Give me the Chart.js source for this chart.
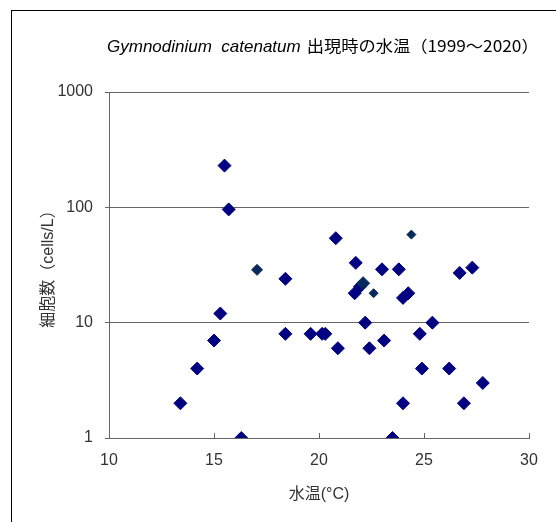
<!DOCTYPE html>
<html><head><meta charset="utf-8">
<script src="https://cdn.jsdelivr.net/npm/chart.js@4.4.1/dist/chart.umd.min.js"></script>
<style>html,body{margin:0;padding:0;background:#fff;} canvas{display:block;}</style>
</head><body>
<canvas id="c" width="556" height="522"></canvas>
<script>
// --- data ---
const mainTemp  = [13.4, 14.2, 15.0, 15.3, 15.5, 15.7, 16.3, 18.4, 18.4, 19.6, 20.15, 20.3, 20.8, 20.9, 21.75, 21.7, 21.95, 22.2, 22.4, 23.0, 23.1, 23.5, 23.8, 24.0, 24.25, 24.0, 24.8, 24.9, 25.4, 26.2, 26.7, 26.9, 27.3, 27.8];
const mainCells = [2,    4,    7,    12,   230,  96,   1,    24,   8,    8,    8,     8,    54,   6,    33,    18,   20.5,  10,   6,    29,   7,    1,    29,   16.4, 18,    2,    8,    4,    10,   4,    27,   2,    30,   3];
const subTemp   = [17.05, 22.1, 22.6, 24.4];
const subCells  = [28.7,  22,   18,   58];
const xTickValues = [10, 15, 20, 25, 30];
const yTickValues = [1, 10, 100, 1000];
const titleLatin = 'Gymnodinium  catenatum';
const titleJa = '出現時の水温（1999～2020）';
const xTitle = '水温(°C)';
const yTitle = '細胞数（cells/L）';

const toPoints = (xs, ys) => xs.map((x, i) => ({x: x, y: ys[i]}));

Chart.defaults.font.family = "'Liberation Sans', 'Noto Sans CJK JP', sans-serif";
Chart.defaults.font.size = 16;
Chart.defaults.color = '#333';

const framePlugin = {
  id: 'frame',
  afterDraw(chart) {
    const ctx = chart.ctx;
    ctx.save();
    // outer frame (left and top edges visible)
    ctx.fillStyle = '#000';
    ctx.fillRect(11, 10, 545, 1);
    ctx.fillRect(11, 10, 1, 512);
    // inward x tick marks
    const xs = chart.scales.x;
    const bottom = chart.chartArea.bottom;
    ctx.strokeStyle = '#666';
    ctx.lineWidth = 1;
    xTickValues.forEach(v => {
      const px = Math.round(xs.getPixelForValue(v)) + 0.5;
      ctx.beginPath();
      ctx.moveTo(px, bottom);
      ctx.lineTo(px, bottom - 5);
      ctx.stroke();
    });
    // title: italic latin part + japanese part
    ctx.fillStyle = '#000';
    ctx.textBaseline = 'alphabetic';
    ctx.textAlign = 'left';
    ctx.font = "italic 17px 'Liberation Sans'";
    const wL = ctx.measureText(titleLatin).width;
    const startX = 107;
    ctx.fillText(titleLatin, startX, 52);
    ctx.font = "16px 'Noto Sans CJK JP'";
    const wJ = ctx.measureText(titleJa).width;
    const jaX = startX + wL + 6;
    const targetW = 232;
    ctx.save();
    ctx.translate(jaX, 52);
    ctx.scale(targetW / wJ, 1);
    ctx.fillText(titleJa, 0, 0);
    ctx.restore();
    ctx.restore();
  }
};

new Chart(document.getElementById('c'), {
  type: 'scatter',
  data: {
    datasets: [
      {
        label: 'sub',
        data: toPoints(subTemp, subCells),
        pointStyle: 'rectRot',
        pointRadius: [5.5, 6.5, 4.5, 4.5],
        pointBackgroundColor: '#062a5c',
        pointBorderColor: '#062a5c',
        pointBorderWidth: 1
      },
      {
        label: 'main',
        data: toPoints(mainTemp, mainCells),
        pointStyle: 'rectRot',
        pointRadius: 6.5,
        pointBackgroundColor: '#000080',
        pointBorderColor: '#000080',
        pointBorderWidth: 1
      }
    ]
  },
  options: {
    responsive: false,
    animation: false,
    layout: {padding: {left: 0, top: 92, right: 27, bottom: 0}},
    plugins: {legend: {display: false}, tooltip: {enabled: false}, title: {display: false}},
    scales: {
      x: {
        type: 'linear',
        min: 10, max: 30,
        afterBuildTicks(scale) { scale.ticks = xTickValues.map(v => ({value: v})); },
        afterFit(scale) { scale.height = 84; },
        grid: {display: true, drawOnChartArea: false, drawTicks: false},
        border: {display: true, color: '#666', width: 1},
        ticks: {padding: 13, color: '#333', font: {size: 16}},
        title: {display: true, text: xTitle, color: '#333', font: {size: 16}, padding: {top: 0, bottom: 18}}
      },
      y: {
        type: 'logarithmic',
        min: 1, max: 1000,
        afterBuildTicks(scale) { scale.ticks = yTickValues.map(v => ({value: v})); },
        afterFit(scale) { scale.width = 109; },
        grid: {display: true, color: '#666', lineWidth: 1, tickLength: 4, drawOnChartArea: true},
        border: {display: true, color: '#666', width: 1},
        ticks: {padding: 12, color: '#333', font: {size: 16}, callback: v => String(v)},
        title: {display: true, text: yTitle, color: '#333', font: {size: 16}, padding: {top: 39, bottom: 0}}
      }
    }
  },
  plugins: [framePlugin]
});
</script>
</body></html>
